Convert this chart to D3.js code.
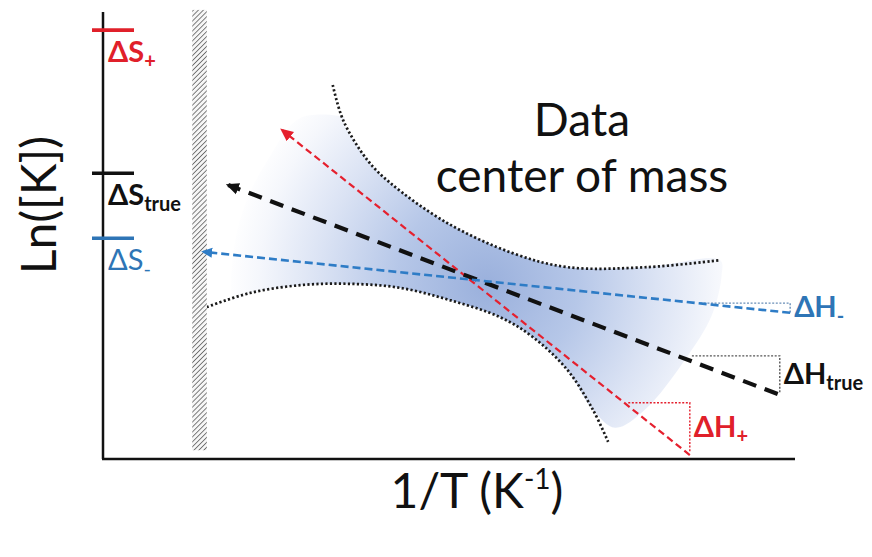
<!DOCTYPE html>
<html>
<head>
<meta charset="utf-8">
<script src="https://cdn.jsdelivr.net/npm/d3@7"></script>
<style>
  body { margin: 0; background: #fff; }
  text { font-family: Lato, "Open Sans", sans-serif; }
</style>
</head>
<body>
<svg id="chart" width="872" height="557"></svg>
<script>
// van 't Hoff sketch, arbitrary units: x = 1/T, y = ln K
// three fits: [+, true, -]
const fitSubs = ["+", "true", "-"];
const fitColors = ["#e5202e", "#111111", "#2e7cc6"];
const fitRight = [[8.48, 0.09], [9.75, 1.48], [9.93, 3.33]];
const fitLeft = [[2.59, 7.49], [1.81, 6.24], [1.45, 4.72]];
// intercept marks on the ln K axis (ΔS)
const intercepts = [9.77, 6.51, 5.03];
// slope triangles (ΔH): x from..to, y top..bottom
const triX = [[7.59, 8.48], [8.51, 9.78], [8.63, 9.93]];
const triY = [[1.28, 0.14], [2.35, 1.48], [3.55, 3.33]];

// confidence band edges (dotted)
const upperBand = [[3.32, 8.52], [3.47, 7.72], [3.82, 6.81], [4.15, 6.29], [4.97, 5.38],
  [5.92, 4.69], [6.71, 4.37], [7.86, 4.37], [8.92, 4.53]];
const lowerBand = [[1.50, 3.46], [2.12, 3.78], [2.85, 3.96], [3.57, 3.99], [4.29, 3.90],
  [5.01, 3.62], [5.74, 3.23], [6.21, 2.78], [6.71, 2.03], [7.08, 1.12], [7.30, 0.39]];
// outline of the shaded data cloud
const cloudLeft = [[3.50, 7.77], [2.85, 7.77], [2.38, 6.81], [2.05, 5.79], [1.88, 4.65], [1.89, 3.62]];
const cloudRight = [[7.40, 0.71], [7.83, 1.12], [8.41, 2.26], [8.80, 3.28], [8.94, 4.19]];
const cloudCenter = [5.55, 3.95];

// measurement limit (hatched wall)
const wallX = [1.29, 1.50];
const wallY = [0.2, 10.23];
const axisTop = 10.18;

const svg = d3.select("#chart");
const x = d3.scaleLinear().domain([0, 10]).range([103, 795]);
const y = d3.scaleLinear().domain([0, 10]).range([459, 20]);
const defs = svg.append("defs");

// shading gradient
const grad = defs.append("radialGradient")
  .attr("id", "cloud")
  .attr("gradientUnits", "userSpaceOnUse")
  .attr("cx", x(cloudCenter[0])).attr("cy", y(cloudCenter[1])).attr("r", 260);
[[0, "#9ab0dc"], [0.35, "#b6c7e8"], [0.65, "#dbe3f4"], [0.88, "#f5f7fc"], [1, "#ffffff"]].forEach(s =>
  grad.append("stop").attr("offset", s[0]).attr("stop-color", s[1]));

// hatch pattern
const hatch = defs.append("pattern")
  .attr("id", "hatch").attr("patternUnits", "userSpaceOnUse")
  .attr("width", 3.5).attr("height", 3.5)
  .attr("patternTransform", "rotate(45)");
hatch.append("rect").attr("width", 3.5).attr("height", 3.5).attr("fill", "#f6f6f6");
hatch.append("line").attr("x1", 0).attr("y1", 0).attr("x2", 0).attr("y2", 3.5)
  .attr("stroke", "#4a4a4a").attr("stroke-width", 1.4);

fitColors.forEach((c, i) => {
  defs.append("marker")
    .attr("id", "arrow" + i)
    .attr("viewBox", "0 0 10 10")
    .attr("refX", 8).attr("refY", 5)
    .attr("markerUnits", "userSpaceOnUse")
    .attr("markerWidth", i == 2 ? 11 : 13).attr("markerHeight", i == 2 ? 11 : 13)
    .attr("orient", "auto")
    .append("path").attr("d", "M0,0.5 L10,5 L0,9.5 Z").attr("fill", c);
});

const line = d3.line().x(d => x(d[0])).y(d => y(d[1]));

// shaded cloud
const cloud = cloudLeft.concat(lowerBand.slice(1, 10), cloudRight, upperBand.slice(1).reverse());
svg.append("path")
  .attr("d", line.curve(d3.curveCatmullRomClosed)(cloud))
  .attr("fill", "url(#cloud)");

// dotted band edges
line.curve(d3.curveCatmullRom);
[upperBand, lowerBand].forEach(b => {
  svg.append("path")
    .attr("d", line(b))
    .attr("fill", "none")
    .attr("stroke", "#1a1a1a")
    .attr("stroke-width", 2.7)
    .attr("stroke-dasharray", "2.2,2.3");
});

// wall
svg.append("rect")
  .attr("x", x(wallX[0])).attr("y", y(wallY[1]))
  .attr("width", x(wallX[1]) - x(wallX[0]))
  .attr("height", y(wallY[0]) - y(wallY[1]))
  .attr("fill", "url(#hatch)");

// axes
svg.append("line")
  .attr("x1", x(0)).attr("x2", x(0))
  .attr("y1", y(axisTop)).attr("y2", y(0))
  .attr("stroke", "#111").attr("stroke-width", 2.5);
svg.append("line")
  .attr("x1", x(0) - 1).attr("x2", x(10))
  .attr("y1", y(0)).attr("y2", y(0))
  .attr("stroke", "#111").attr("stroke-width", 2.5);

// slope triangles
line.curve(d3.curveLinear);
const triColors = ["#e5202e", "#555555", "#6a8fb8"];
triX.forEach((tx, i) => {
  svg.append("path")
    .attr("d", line([[tx[0], triY[i][0]], [tx[1], triY[i][0]], [tx[1], triY[i][1]]]))
    .attr("fill", "none")
    .attr("stroke", triColors[i])
    .attr("stroke-width", 1.4)
    .attr("stroke-dasharray", "2,1.6");
});

// fit lines
const widths = [2.2, 4.2, 2.6];
const dashes = ["7,4", "14,9", "8,4"];
fitColors.forEach((c, i) => {
  svg.append("path")
    .attr("d", line([fitRight[i], fitLeft[i]]))
    .attr("fill", "none")
    .attr("stroke", c)
    .attr("stroke-width", widths[i])
    .attr("stroke-dasharray", dashes[i])
    .attr("marker-end", "url(#arrow" + i + ")");
});

// ΔS marks and labels
const labelColors = ["#e0202a", "#111111", "#2e75b6"];
intercepts.forEach((v, i) => {
  svg.append("line")
    .attr("x1", x(0) - 11).attr("x2", x(0) + 31)
    .attr("y1", y(v)).attr("y2", y(v))
    .attr("stroke", labelColors[i]).attr("stroke-width", 3.6);
  const t = svg.append("text")
    .attr("x", x(0) + 5).attr("y", y(v) + 32)
    .attr("fill", labelColors[i])
    .attr("font-size", 29)
    .attr("font-weight", i == 2 ? 400 : 700);
  t.append("tspan").text("ΔS");
  t.append("tspan").attr("font-size", 20).attr("dy", 6).text(fitSubs[i]);
});

// ΔH labels
triX.forEach((tx, i) => {
  const t = svg.append("text")
    .attr("x", x(tx[1]) + 4)
    .attr("y", (y(triY[i][0]) + y(triY[i][1])) / 2 + 9)
    .attr("fill", labelColors[i])
    .attr("font-size", 29)
    .attr("font-weight", 700);
  t.append("tspan").text("ΔH");
  t.append("tspan").attr("font-size", 20).attr("dy", 6).text(fitSubs[i]);
});

// axis titles
svg.append("text")
  .attr("transform", "translate(56,205) rotate(-90)")
  .attr("text-anchor", "middle")
  .attr("font-size", 48)
  .attr("fill", "#111")
  .text("Ln([K])");
const xt = svg.append("text")
  .attr("x", 477).attr("y", 508)
  .attr("text-anchor", "middle")
  .attr("font-size", 48)
  .attr("fill", "#111");
xt.append("tspan").text("1/T (K");
xt.append("tspan").attr("font-size", 28).attr("dy", -19).text("-1");
xt.append("tspan").attr("dy", 19).text(")");

// annotation
svg.append("text").attr("x", 582).attr("y", 136).attr("text-anchor", "middle")
  .attr("font-size", 46).attr("fill", "#111").text("Data");
svg.append("text").attr("x", 582).attr("y", 192).attr("text-anchor", "middle")
  .attr("font-size", 46).attr("fill", "#111").text("center of mass");
</script>
</body>
</html>
